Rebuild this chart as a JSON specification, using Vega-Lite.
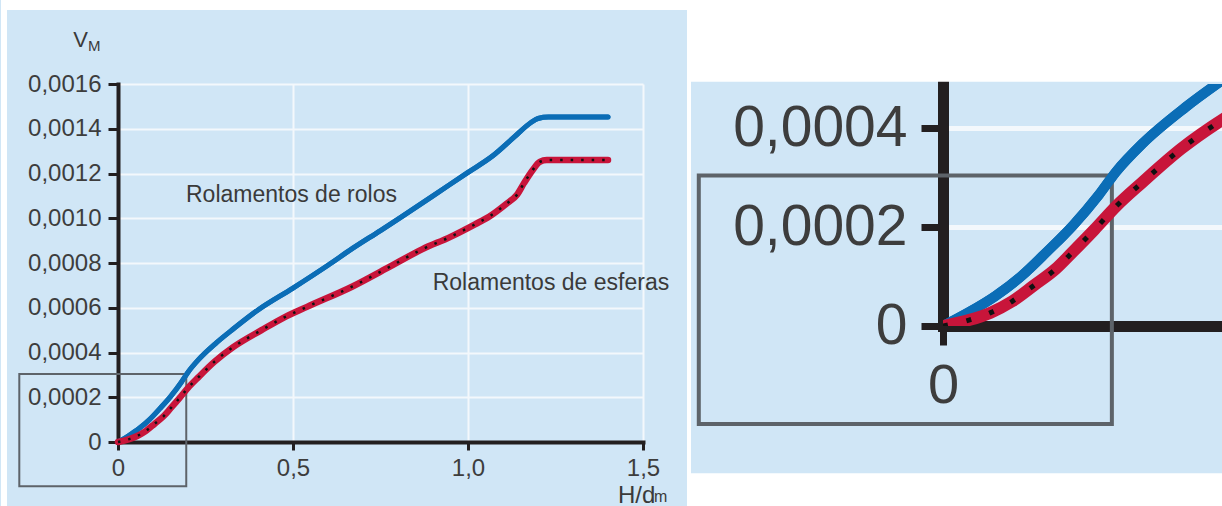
{
  "$schema": "https://vega.github.io/schema/vega-lite/v6.json",
  "background": "#d0e6f6",
  "padding": 0,
  "bounds": "flush",
  "spacing": 300,
  "config": {"font": "Liberation Sans", "view": {"stroke": null}},
  "datasets": {
    "curvas": [
      {"tipo": "Rolamentos de rolos", "h": 0, "v": 0},
      {"tipo": "Rolamentos de rolos", "h": 0.03, "v": 0.000028},
      {"tipo": "Rolamentos de rolos", "h": 0.06, "v": 0.00006},
      {"tipo": "Rolamentos de rolos", "h": 0.09, "v": 0.0001},
      {"tipo": "Rolamentos de rolos", "h": 0.12, "v": 0.00015},
      {"tipo": "Rolamentos de rolos", "h": 0.15, "v": 0.000203},
      {"tipo": "Rolamentos de rolos", "h": 0.18, "v": 0.000265},
      {"tipo": "Rolamentos de rolos", "h": 0.2, "v": 0.000312},
      {"tipo": "Rolamentos de rolos", "h": 0.23, "v": 0.000368},
      {"tipo": "Rolamentos de rolos", "h": 0.28, "v": 0.000442},
      {"tipo": "Rolamentos de rolos", "h": 0.33, "v": 0.000506},
      {"tipo": "Rolamentos de rolos", "h": 0.4, "v": 0.00059},
      {"tipo": "Rolamentos de rolos", "h": 0.5, "v": 0.000688},
      {"tipo": "Rolamentos de rolos", "h": 0.6, "v": 0.00079},
      {"tipo": "Rolamentos de rolos", "h": 0.67, "v": 0.000865},
      {"tipo": "Rolamentos de rolos", "h": 0.75, "v": 0.000945},
      {"tipo": "Rolamentos de rolos", "h": 0.81, "v": 0.001006},
      {"tipo": "Rolamentos de rolos", "h": 0.9, "v": 0.0011},
      {"tipo": "Rolamentos de rolos", "h": 1.0, "v": 0.001205},
      {"tipo": "Rolamentos de rolos", "h": 1.07, "v": 0.001278},
      {"tipo": "Rolamentos de rolos", "h": 1.13, "v": 0.00136},
      {"tipo": "Rolamentos de rolos", "h": 1.18, "v": 0.001428},
      {"tipo": "Rolamentos de rolos", "h": 1.2, "v": 0.001446},
      {"tipo": "Rolamentos de rolos", "h": 1.23, "v": 0.001452},
      {"tipo": "Rolamentos de rolos", "h": 1.4, "v": 0.001452},
      {"tipo": "Rolamentos de esferas", "h": 0, "v": 0},
      {"tipo": "Rolamentos de esferas", "h": 0.03, "v": 0.000012},
      {"tipo": "Rolamentos de esferas", "h": 0.055, "v": 0.000027},
      {"tipo": "Rolamentos de esferas", "h": 0.08, "v": 0.00005},
      {"tipo": "Rolamentos de esferas", "h": 0.105, "v": 0.000082},
      {"tipo": "Rolamentos de esferas", "h": 0.13, "v": 0.000115},
      {"tipo": "Rolamentos de esferas", "h": 0.15, "v": 0.00015},
      {"tipo": "Rolamentos de esferas", "h": 0.175, "v": 0.000195},
      {"tipo": "Rolamentos de esferas", "h": 0.2, "v": 0.000242},
      {"tipo": "Rolamentos de esferas", "h": 0.23, "v": 0.00029},
      {"tipo": "Rolamentos de esferas", "h": 0.275, "v": 0.000358},
      {"tipo": "Rolamentos de esferas", "h": 0.33, "v": 0.000425},
      {"tipo": "Rolamentos de esferas", "h": 0.41, "v": 0.0005},
      {"tipo": "Rolamentos de esferas", "h": 0.47, "v": 0.000553},
      {"tipo": "Rolamentos de esferas", "h": 0.54, "v": 0.000604},
      {"tipo": "Rolamentos de esferas", "h": 0.67, "v": 0.000695},
      {"tipo": "Rolamentos de esferas", "h": 0.77, "v": 0.000778},
      {"tipo": "Rolamentos de esferas", "h": 0.87, "v": 0.000862},
      {"tipo": "Rolamentos de esferas", "h": 0.95, "v": 0.000917},
      {"tipo": "Rolamentos de esferas", "h": 1.02, "v": 0.000973},
      {"tipo": "Rolamentos de esferas", "h": 1.06, "v": 0.001007},
      {"tipo": "Rolamentos de esferas", "h": 1.11, "v": 0.001065},
      {"tipo": "Rolamentos de esferas", "h": 1.14, "v": 0.001105},
      {"tipo": "Rolamentos de esferas", "h": 1.16, "v": 0.001157},
      {"tipo": "Rolamentos de esferas", "h": 1.185, "v": 0.001216},
      {"tipo": "Rolamentos de esferas", "h": 1.205, "v": 0.001252},
      {"tipo": "Rolamentos de esferas", "h": 1.225, "v": 0.00126},
      {"tipo": "Rolamentos de esferas", "h": 1.4, "v": 0.00126}
    ]
  },
  "hconcat": [
    {
      "width": 525,
      "height": 358,
      "layer": [
        {
          "data": {"name": "curvas"},
          "transform": [{"filter": "datum.tipo == 'Rolamentos de rolos'"}],
          "mark": {"type": "line", "color": "#0b6db6", "strokeWidth": 5, "interpolate": "monotone", "strokeCap": "round"},
          "encoding": {
            "x": {
              "field": "h", "type": "quantitative", "title": null,
              "scale": {"domain": [0, 1.5], "nice": false},
              "axis": {
                "title": null, "values": [0, 0.5, 1, 1.5],
                "labelExpr": "datum.value == 0 ? '0' : replace(format(datum.value, '.1f'), '.', ',')",
                "labelFontSize": 24, "labelColor": "#3d3d3d", "labelPadding": 6, "labelFlush": false, "labelOverlap": false,
                "tickSize": 8, "tickWidth": 3, "tickColor": "#231f20",
                "domainColor": "#231f20", "domainWidth": 4, "domainCap": "square",
                "grid": true, "gridColor": "#f3f8fc", "gridWidth": 2
              }
            },
            "y": {
              "field": "v", "type": "quantitative", "title": null,
              "scale": {"domain": [0, 0.0016], "nice": false},
              "axis": {
                "title": null, "values": [0, 0.0002, 0.0004, 0.0006, 0.0008, 0.001, 0.0012, 0.0014, 0.0016],
                "labelExpr": "datum.value == 0 ? '0' : replace(format(datum.value, '.4f'), '.', ',')",
                "labelFontSize": 24, "labelColor": "#3d3d3d", "labelPadding": 7, "labelFlush": false, "labelOverlap": false,
                "tickSize": 10, "tickWidth": 3, "tickColor": "#231f20",
                "domainColor": "#231f20", "domainWidth": 4, "domainCap": "square",
                "grid": true, "gridColor": "#f3f8fc", "gridWidth": 2
              }
            }
          }
        },
        {
          "data": {"values": [{}]},
          "mark": {"type": "rect", "fill": "white"},
          "encoding": {
            "x": {"datum": -0.3343, "scale": {"domain": [0, 1.5], "nice": false}},
            "x2": {"datum": -0.3171},
            "y": {"datum": 0.001975, "scale": {"domain": [0, 0.0016], "nice": false}},
            "y2": {"datum": -0.000286}
          }
        },
        {
          "data": {"values": [{}]},
          "mark": {"type": "rect", "fill": "white"},
          "encoding": {
            "x": {"datum": -0.3343, "scale": {"domain": [0, 1.5], "nice": false}},
            "x2": {"datum": 1.6257},
            "y": {"datum": 0.001975, "scale": {"domain": [0, 0.0016], "nice": false}},
            "y2": {"datum": 0.0019306}
          }
        },
        {
          "data": {"values": [{}]},
          "mark": {"type": "rect", "filled": false, "color": "#5d6369", "strokeWidth": 2},
          "encoding": {
            "x": {"datum": -0.282, "scale": {"domain": [0, 1.5], "nice": false}},
            "x2": {"datum": 0.195},
            "y": {"datum": 0.000304, "scale": {"domain": [0, 0.0016], "nice": false}},
            "y2": {"datum": -0.000198}
          }
        },
        {
          "data": {"name": "curvas"},
          "transform": [{"filter": "datum.tipo == 'Rolamentos de rolos'"}],
          "mark": {"type": "line", "color": "#0b6db6", "strokeWidth": 5, "interpolate": "monotone", "strokeCap": "round"},
          "encoding": {
            "x": {"field": "h", "type": "quantitative", "title": null, "scale": {"domain": [0, 1.5], "nice": false}},
            "y": {"field": "v", "type": "quantitative", "title": null, "scale": {"domain": [0, 0.0016], "nice": false}}
          }
        },
        {
          "data": {"name": "curvas"},
          "transform": [{"filter": "datum.tipo == 'Rolamentos de esferas'"}],
          "mark": {"type": "line", "color": "#c8153a", "strokeWidth": 6.5, "interpolate": "monotone", "strokeCap": "round"},
          "encoding": {
            "x": {"field": "h", "type": "quantitative", "title": null, "scale": {"domain": [0, 1.5], "nice": false}},
            "y": {"field": "v", "type": "quantitative", "title": null, "scale": {"domain": [0, 0.0016], "nice": false}}
          }
        },
        {
          "data": {"name": "curvas"},
          "transform": [{"filter": "datum.tipo == 'Rolamentos de esferas'"}],
          "mark": {"type": "line", "color": "#111111", "strokeWidth": 2.5, "strokeDash": [2.5, 8], "interpolate": "monotone"},
          "encoding": {
            "x": {"field": "h", "type": "quantitative", "title": null, "scale": {"domain": [0, 1.5], "nice": false}},
            "y": {"field": "v", "type": "quantitative", "title": null, "scale": {"domain": [0, 0.0016], "nice": false}}
          }
        },
        {
          "data": {"values": [{}]},
          "mark": {"type": "text", "text": "Rolamentos de rolos", "align": "left", "baseline": "alphabetic", "fontSize": 23, "color": "#3a3a3a"},
          "encoding": {
            "x": {"datum": 0.1943, "scale": {"domain": [0, 1.5], "nice": false}},
            "y": {"datum": 0.0010726, "scale": {"domain": [0, 0.0016], "nice": false}}
          }
        },
        {
          "data": {"values": [{}]},
          "mark": {"type": "text", "text": "Rolamentos de esferas", "align": "left", "baseline": "alphabetic", "fontSize": 23, "color": "#3a3a3a"},
          "encoding": {
            "x": {"datum": 0.8991, "scale": {"domain": [0, 1.5], "nice": false}},
            "y": {"datum": 0.0006793, "scale": {"domain": [0, 0.0016], "nice": false}}
          }
        },
        {
          "data": {"values": [{}]},
          "mark": {"type": "text", "text": "V", "align": "center", "baseline": "alphabetic", "fontSize": 22, "color": "#3a3a3a"},
          "encoding": {
            "x": {"datum": -0.1066, "scale": {"domain": [0, 1.5], "nice": false}},
            "y": {"datum": 0.001764, "scale": {"domain": [0, 0.0016], "nice": false}}
          }
        },
        {
          "data": {"values": [{}]},
          "mark": {"type": "text", "text": "M", "align": "center", "baseline": "alphabetic", "fontSize": 15, "color": "#3a3a3a"},
          "encoding": {
            "x": {"datum": -0.0677, "scale": {"domain": [0, 1.5], "nice": false}},
            "y": {"datum": 0.0017489, "scale": {"domain": [0, 0.0016], "nice": false}}
          }
        },
        {
          "data": {"values": [{}]},
          "mark": {"type": "text", "text": "H/d", "align": "left", "baseline": "alphabetic", "fontSize": 24, "color": "#3a3a3a"},
          "encoding": {
            "x": {"datum": 1.4286, "scale": {"domain": [0, 1.5], "nice": false}},
            "y": {"datum": -0.0002726, "scale": {"domain": [0, 0.0016], "nice": false}}
          }
        },
        {
          "data": {"values": [{}]},
          "mark": {"type": "text", "text": "m", "align": "left", "baseline": "alphabetic", "fontSize": 16, "color": "#3a3a3a"},
          "encoding": {
            "x": {"datum": 1.5314, "scale": {"domain": [0, 1.5], "nice": false}},
            "y": {"datum": -0.0002682, "scale": {"domain": [0, 0.0016], "nice": false}}
          }
        }
      ]
    },
    {
      "width": 280,
      "height": 242,
      "layer": [
        {
          "data": {"name": "curvas"},
          "transform": [{"filter": "datum.tipo == 'Rolamentos de rolos'"}],
          "mark": {"type": "line", "color": "#0b6db6", "strokeWidth": 10, "interpolate": "monotone", "strokeCap": "round", "clip": true},
          "encoding": {
            "x": {
              "field": "h", "type": "quantitative", "title": null,
              "scale": {"domain": [0, 0.32333], "nice": false},
              "axis": {
                "title": null, "values": [0],
                "labelExpr": "'0'",
                "labelFontSize": 56, "labelColor": "#3d3d3d", "labelPadding": 13, "labelFlush": false,
                "tickSize": 19, "tickWidth": 7, "tickColor": "#231f20",
                "domainColor": "#231f20", "domainWidth": 11, "domainCap": "square",
                "grid": false
              }
            },
            "y": {
              "field": "v", "type": "quantitative", "title": null,
              "scale": {"domain": [0, 0.000489], "nice": false},
              "axis": {
                "title": null, "values": [0, 0.0002, 0.0004],
                "labelExpr": "datum.value == 0 ? '0' : replace(format(datum.value, '.4f'), '.', ',')",
                "labelFontSize": 57, "labelColor": "#3d3d3d", "labelPadding": 14, "labelFlush": false, "labelOverlap": false,
                "tickSize": 22, "tickWidth": 7, "tickColor": "#231f20",
                "domainColor": "#231f20", "domainWidth": 11, "domainCap": "square",
                "grid": true, "gridColor": "#f3f8fc", "gridWidth": 5
              }
            }
          }
        },
        {
          "data": {"values": [{}]},
          "mark": {"type": "rect", "fill": "white"},
          "encoding": {
            "x": {"datum": -0.29561, "scale": {"domain": [0, 0.32333], "nice": false}},
            "x2": {"datum": -0.29099},
            "y": {"datum": 0.00065859, "scale": {"domain": [0, 0.000489], "nice": false}},
            "y2": {"datum": -0.00036364}
          }
        },
        {
          "data": {"values": [{}]},
          "mark": {"type": "rect", "fill": "white"},
          "encoding": {
            "x": {"datum": -0.29561, "scale": {"domain": [0, 0.32333], "nice": false}},
            "x2": {"datum": 0.32333},
            "y": {"datum": 0.00065859, "scale": {"domain": [0, 0.000489], "nice": false}},
            "y2": {"datum": 0.0004935}
          }
        },
        {
          "data": {"values": [{}]},
          "mark": {"type": "rect", "fill": "white"},
          "encoding": {
            "x": {"datum": -0.29561, "scale": {"domain": [0, 0.32333], "nice": false}},
            "x2": {"datum": 0.32333},
            "y": {"datum": -0.0002976, "scale": {"domain": [0, 0.000489], "nice": false}},
            "y2": {"datum": -0.00036364}
          }
        },
        {
          "data": {"values": [{}]},
          "mark": {"type": "rect", "filled": false, "color": "#5d6369", "strokeWidth": 4},
          "encoding": {
            "x": {"datum": -0.282, "scale": {"domain": [0, 0.32333], "nice": false}},
            "x2": {"datum": 0.195},
            "y": {"datum": 0.000304, "scale": {"domain": [0, 0.000489], "nice": false}},
            "y2": {"datum": -0.000198}
          }
        },
        {
          "data": {"name": "curvas"},
          "transform": [{"filter": "datum.tipo == 'Rolamentos de rolos'"}],
          "mark": {"type": "line", "color": "#0b6db6", "strokeWidth": 10, "interpolate": "monotone", "strokeCap": "round", "clip": true},
          "encoding": {
            "x": {"field": "h", "type": "quantitative", "title": null, "scale": {"domain": [0, 0.32333], "nice": false}},
            "y": {"field": "v", "type": "quantitative", "title": null, "scale": {"domain": [0, 0.000489], "nice": false}}
          }
        },
        {
          "data": {"name": "curvas"},
          "transform": [{"filter": "datum.tipo == 'Rolamentos de esferas'"}],
          "mark": {"type": "line", "color": "#c8153a", "strokeWidth": 12, "interpolate": "monotone", "strokeCap": "round", "clip": true},
          "encoding": {
            "x": {"field": "h", "type": "quantitative", "title": null, "scale": {"domain": [0, 0.32333], "nice": false}},
            "y": {"field": "v", "type": "quantitative", "title": null, "scale": {"domain": [0, 0.000489], "nice": false}}
          }
        },
        {
          "data": {"name": "curvas"},
          "transform": [{"filter": "datum.tipo == 'Rolamentos de esferas'"}],
          "mark": {"type": "line", "color": "#111111", "strokeWidth": 5, "strokeDash": [5, 19], "interpolate": "monotone", "clip": true},
          "encoding": {
            "x": {"field": "h", "type": "quantitative", "title": null, "scale": {"domain": [0, 0.32333], "nice": false}},
            "y": {"field": "v", "type": "quantitative", "title": null, "scale": {"domain": [0, 0.000489], "nice": false}}
          }
        }
      ]
    }
  ]
}
